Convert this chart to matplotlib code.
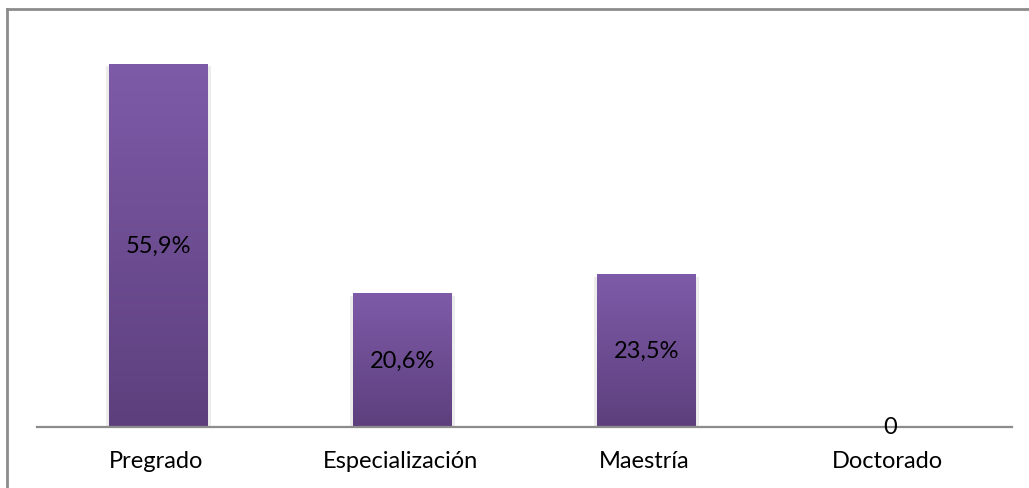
import numpy as np
import matplotlib.pyplot as plt
from matplotlib.lines import Line2D

categories = ["Pregrado", "Especialización", "Maestría", "Doctorado"]
values = [55.9, 20.6, 23.5, 0]
value_labels = ["55,9%", "20,6%", "23,5%", "0"]

W, H = 1029, 489
fig = plt.figure(figsize=(W / 100, H / 100), dpi=100)
plt.rcParams['font.family'] = ['Lato', 'DejaVu Sans']

# plot area in pixels: x 37..1012, axis line at y=428
left, right = 37 / W, 1012 / W
bottom = 1 - 428 / H
ymax = 60
px_per_unit = 6.5
top_px = 428 - ymax * px_per_unit
ax = fig.add_axes([left, bottom, right - left, (428 - top_px) / H])
ax.set_xlim(-0.5, len(categories) - 0.5)
ax.set_ylim(0, ymax)
ax.axis('off')

x = np.arange(len(categories))
bar_w = 99 / 243.75

# purple vertical gradient
top_c = np.array([0x7E, 0x5B, 0xA8]) / 255
bot_c = np.array([0x5D, 0x3F, 0x7D]) / 255
grad = np.linspace(0, 1, 256)[:, None]
img = top_c[None, None, :] * (1 - grad[:, :, None]) + bot_c[None, None, :] * grad[:, :, None]

bars = ax.bar(x, values, width=bar_w, color='none', edgecolor='none')
for b, v in zip(bars, values):
    if v <= 0:
        continue
    x0 = b.get_x()
    # soft shadow
    ax.bar(x0 + bar_w / 2, v - 0.4, width=bar_w + 0.025, color='#ececec',
           edgecolor='none', zorder=1)
    im = ax.imshow(img, extent=[x0, x0 + bar_w, 0, v], aspect='auto', zorder=2)
    im.set_clip_path(b)

for xi, v, lab in zip(x, values, value_labels):
    ax.text(xi, v / 2, lab, ha='center', va='center', fontsize=17,
            color='black', zorder=5)

# axis line
ax.plot([-0.5, len(categories) - 0.5], [0, 0], color='#8c8c8c', lw=1.6,
        zorder=4, clip_on=False)

# category labels below axis
for xi, c in zip(x, categories):
    ax.text(xi - 0.01, -34 / px_per_unit, c, ha='center', va='center', fontsize=17,
            zorder=5)

# outer border (top and left)
fig.add_artist(Line2D([6.5 / W, 1], [1 - 9.5 / H, 1 - 9.5 / H], color='#8c8c8c', lw=2))
fig.add_artist(Line2D([6.5 / W, 6.5 / W], [0, 1 - 9.5 / H], color='#8c8c8c', lw=2))

fig.savefig("out.png", dpi=100)
